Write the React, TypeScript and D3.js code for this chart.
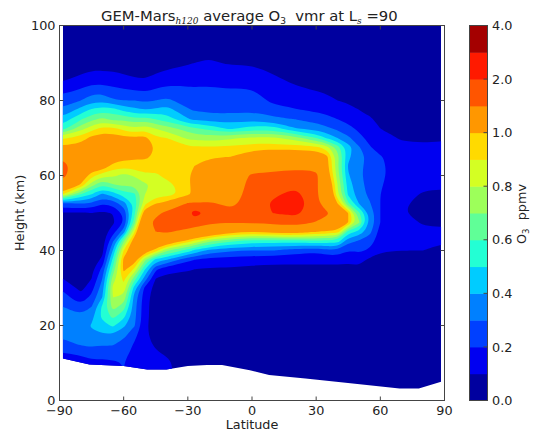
import React from "react";
import * as d3 from "d3";

// band edges and colours of the filled contours
const levels = [0, 0.1, 0.2, 0.3, 0.4, 0.5, 0.6, 0.7, 0.8, 0.9, 1.0, 1.5, 2.0, 3.0, 4.0];
const bandColors = [
  "#00009f", "#0000f1", "#0040ff", "#0080ff", "#00ccff", "#23ffd4", "#60ff97",
  "#9dff5a", "#d4ff23", "#ffda00", "#ff9700", "#ff5500", "#ff1a00", "#a40000",
];
const colorbarTicks = [
  { level: 0, label: "0.0" },
  { level: 2, label: "0.2" },
  { level: 4, label: "0.4" },
  { level: 6, label: "0.6" },
  { level: 8, label: "0.8" },
  { level: 10, label: "1.0" },
  { level: 12, label: "2.0" },
  { level: 14, label: "4.0" },
];
const latTicks = [-90, -60, -30, 0, 30, 60, 90];
const heightTicks = [0, 20, 40, 60, 80, 100];

const heights = [
  100, 90, 85, 80, 77.5, 75, 72.5, 70, 67.5, 65, 62.5, 60, 57.5, 55, 52.5, 50, 47.5,
  45, 42.5, 40, 37.5, 35, 32.5, 30, 27.5, 25, 22.5, 20, 17.5, 15, 12.5, 10, 5, 0,
];
const lats = [-88.4, -80, -75, -70, -65, -60, -55, -50, -45, -40, -30, -27, -20, -10, 0, 10, 20, 30, 35, 40, 45, 50, 55, 60, 70, 80, 88.4];

// O3 in ppmv, one column per latitude, top to bottom as in heights
const o3ByLat = [
  [.02, .05, .1, .25, .32, .44, .56, .88, 1.03, 1.42, 1.65, 1.6, 1.3, .9, .28, .09, .05, .04, .04, .04, .04, .07, .1, .19, .24, .3, .33, .34, .32, .27, .19, .15, .1, .1],
  [.02, .04, .14, .3, .44, .59, .76, .95, 1.05, 1.15, 1.2, 1.12, .98, .6, .3, .09, .06, .05, .04, .04, .04, .04, .05, .07, .13, .23, .31, .34, .34, .31, .22, .13, .08, .05],
  [.02, .05, .17, .36, .52, .67, .86, 1.03, 1.1, 1.2, 1.1, .94, .74, .5, .29, .1, .07, .05, .04, .04, .04, .07, .1, .16, .23, .3, .36, .41, .38, .32, .25, .17, .1, .05],
  [.03, .05, .17, .37, .55, .73, .93, 1.07, 1.15, 1.2, 1.1, .83, .6, .38, .2, .08, .05, .04, .05, .07, .12, .23, .3, .35, .4, .52, .53, .46, .39, .31, .24, .17, .1, .05],
  [.03, .05, .16, .31, .55, .67, .93, 1.05, 1.15, 1.1, .95, .82, .69, .45, .23, .105, .08, .16, .29, .41, .53, .63, .75, .83, .8, .74, .63, .52, .39, .31, .25, .18, .1, .05],
  [.03, .04, .14, .3, .47, .68, .87, 1.03, 1.2, 1.05, .93, .77, .72, .55, .36, .22, .2, .35, .68, .9, 1.03, 1.03, .93, .87, .77, .65, .53, .42, .33, .26, .22, .2, .2, .18],
  [.03, .04, .12, .3, .43, .63, .82, 1.02, 1.2, 1.02, .95, .81, .72, .58, .52, .57, .65, .88, 1.1, 1.17, 1.08, .88, .65, .45, .36, .34, .33, .31, .23, .19, .18, .17, .12, .1],
  [.03, .04, .11, .28, .4, .65, .87, 1.03, 1.15, 1.02, .96, .88, .78, .8, .88, 1.1, 1.35, 1.4, 1.3, 1.1, .72, .5, .35, .17, .14, .13, .13, .12, .12, .12, .12, .12, .1, .1],
  [.03, .05, .14, .3, .42, .6, .8, .92, .98, .98, .94, .88, .83, .85, 1.0, 1.4, 1.6, 1.5, 1.2, .95, .45, .22, .1, .06, .05, .05, .05, .05, .06, .09, .11, .12, .12, .12],
  [.03, .06, .17, .32, .45, .55, .75, .9, .92, .95, .96, .93, .86, .85, 1.05, 1.6, 1.7, 1.55, 1.15, .72, .4, .13, .07, .06, .05, .05, .05, .05, .05, .06, .09, .12, .12, .12],
  [.03, .09, .18, .26, .31, .41, .65, .78, .92, .95, .96, .98, .97, .95, 1.55, 1.8, 1.8, 1.35, .95, .55, .22, .11, .07, .05, .05, .05, .05, .05, .05, .05, .05, .05, .05, .05],
  [.03, .1, .18, .25, .29, .38, .62, .77, .92, .96, 1.0, 1.05, 1.05, 1.05, 1.55, 2.25, 1.75, 1.3, .88, .48, .2, .1, .07, .05, .05, .05, .05, .05, .05, .05, .05, .05, .05, .05],
  [.03, .11, .19, .23, .27, .36, .57, .75, .91, .98, 1.1, 1.2, 1.25, 1.3, 1.55, 1.85, 1.55, 1.2, .72, .37, .15, .09, .06, .05, .05, .05, .05, .05, .05, .05, .05, .05, .05, .05],
  [.03, .09, .18, .23, .27, .35, .48, .78, .92, 1.0, 1.2, 1.25, 1.3, 1.35, 1.42, 1.6, 1.52, 1.05, .62, .31, .15, .09, .06, .05, .05, .05, .05, .05, .05, .05, .05, .05, .05, .05],
  [.03, .09, .18, .24, .28, .37, .55, .82, .95, 1.1, 1.32, 1.55, 1.6, 1.62, 1.65, 1.68, 1.55, 1.0, .55, .3, .13, .08, .06, .05, .05, .05, .05, .05, .05, .05, .05, .05, .05, .05],
  [.03, .07, .12, .18, .23, .33, .55, .82, .95, 1.15, 1.35, 1.6, 1.7, 1.9, 2.1, 2.02, 1.6, 1.05, .55, .3, .13, .07, .06, .05, .05, .05, .05, .05, .05, .05, .05, .05, .05, .05],
  [.02, .05, .09, .15, .21, .3, .41, .75, .95, 1.15, 1.4, 1.65, 1.85, 2.2, 2.4, 2.15, 1.7, 1.1, .55, .25, .13, .07, .05, .05, .05, .05, .05, .05, .05, .05, .05, .05, .05, .05],
  [.02, .04, .07, .13, .18, .26, .36, .6, .93, 1.13, 1.42, 1.58, 1.55, 1.55, 1.6, 1.65, 1.48, 1.0, .58, .22, .13, .07, .05, .05, .05, .05, .05, .05, .05, .05, .05, .05, .05, .05],
  [.02, .03, .06, .12, .16, .24, .32, .49, .85, 1.03, 1.05, 1.1, 1.22, 1.25, 1.3, 1.55, 1.4, .97, .56, .26, .13, .07, .05, .05, .05, .05, .05, .05, .05, .05, .05, .05, .05, .05],
  [.02, .03, .05, .1, .14, .2, .28, .4, .65, .74, .72, .75, .8, .82, 1.0, 1.2, 1.25, .95, .55, .28, .13, .07, .05, .05, .05, .05, .05, .05, .05, .05, .05, .05, .05, .05],
  [.02, .03, .05, .09, .12, .17, .23, .32, .45, .42, .39, .41, .45, .48, .62, 1.0, 1.0, .55, .33, .2, .12, .07, .05, .05, .05, .05, .05, .05, .05, .05, .05, .05, .05, .05],
  [.02, .03, .04, .08, .1, .14, .18, .23, .31, .34, .32, .32, .33, .34, .4, .62, .72, .47, .29, .22, .13, .08, .06, .05, .05, .05, .05, .05, .05, .05, .05, .05, .05, .05],
  [.01, .02, .03, .05, .08, .11, .14, .17, .21, .27, .27, .26, .27, .28, .31, .37, .38, .33, .25, .18, .08, .06, .04, .04, .04, .04, .04, .04, .04, .04, .04, .04, .04, .04],
  [.01, .02, .03, .05, .07, .08, .1, .12, .15, .21, .22, .22, .21, .2, .2, .2, .2, .16, .14, .105, .08, .05, .04, .04, .04, .04, .04, .04, .04, .04, .04, .04, .04, .04],
  [.01, .02, .03, .04, .05, .06, .08, .095, .11, .125, .14, .14, .13, .12, .11, .105, .12, .12, .13, .1, .07, .05, .04, .04, .04, .04, .04, .04, .04, .04, .04, .04, .04, .04],
  [.01, .02, .03, .04, .05, .06, .07, .09, .11, .12, .125, .12, .11, .095, .08, .08, .095, .11, .12, .1, .07, .05, .04, .04, .04, .04, .04, .04, .04, .04, .04, .04, .04, .04],
  [.01, .02, .03, .04, .05, .06, .08, .095, .11, .13, .125, .12, .11, .09, .07, .07, .09, .11, .11, .08, .06, .05, .04, .04, .04, .04, .04, .04, .04, .04, .04, .04, .04, .04],
];

// lower edge of the filled area (km)
const surfaceLats = [-88.4, -76, -60, -49, -40, -30, -21, -14, -1, 8, 25, 46, 69, 78, 88.4];
const surfaceHeights = [11.2, 9.6, 9.2, 8.3, 8.3, 9.2, 9.5, 9.5, 8.1, 6.8, 5.9, 4.6, 3.2, 3.2, 5.0];

const font = "'DejaVu Sans', sans-serif";
const textColor = "#222";
const frameColor = "#444";

export default function App() {
  const x = d3.scaleLinear().domain([-90, 90]).range([59.5, 444.5]);
  const y = d3.scaleLinear().domain([0, 100]).range([400.5, 25.5]);
  const cbY = d3.scaleLinear().domain([0, 14]).range([400.5, 25.5]);

  // repeat the outer columns and rows past the frame so the ring smoothing
  // rounds its corners outside the clip
  const gridLats = [-93, ...lats, 93];
  const gridHeights = [103, ...heights, -3];
  const gridCols = [o3ByLat[0], ...o3ByLat, o3ByLat[o3ByLat.length - 1]].map((c) => [c[0], ...c, c[c.length - 1]]);

  const nx = gridLats.length;
  const ny = gridHeights.length;
  const flat: number[] = [];
  for (let j = 0; j < ny; j++) for (let i = 0; i < nx; i++) flat.push(gridCols[i][j]);

  // grid index -> pixel, grid is irregular
  const xOfIndex = d3.scaleLinear().domain(d3.range(nx)).range(gridLats.map((d) => x(d)));
  const yOfIndex = d3.scaleLinear().domain(d3.range(ny)).range(gridHeights.map((d) => y(d)));
  const toPixel = (p: number[]): [number, number] => [
    xOfIndex(Math.min(nx - 1, Math.max(0, p[0] - 0.5))),
    yOfIndex(Math.min(ny - 1, Math.max(0, p[1] - 0.5))),
  ];

  const bands = d3.contours().size([nx, ny]).smooth(true).thresholds(levels.slice(1, 14))(flat);
  const ringPath = d3.line().curve(d3.curveBasisClosed);
  const bandPath = (b: d3.ContourMultiPolygon) =>
    b.coordinates
      .flatMap((poly) => poly.map((ring) => ringPath(ring.slice(0, -1).map(toPixel))))
      .join("");

  const clipArea = d3
    .area<number>()
    .x((d) => x(d))
    .y0(y(100))
    .y1((d) => y(surfaceHeights[surfaceLats.indexOf(d)]));

  const tickLen = 4;
  const fontSize = 12.8;

  return (
    <svg
      width={535}
      height={436}
      style={{ position: "absolute", left: 0, top: 0, background: "#fff" }}
      fontFamily={font}
      fill={textColor}
    >
      <defs>
        <clipPath id="field">
          <path d={clipArea(surfaceLats) || ""} />
        </clipPath>
      </defs>

      <g clipPath="url(#field)">
        <rect x={x(-88.4)} y={y(100)} width={x(88.4) - x(-88.4)} height={y(0) - y(100)} fill={bandColors[0]} />
        {bands.map((b, i) => (
          <path key={i} d={bandPath(b)} fill={bandColors[i + 1]} fillRule="evenodd" />
        ))}
      </g>

      <rect x={59.5} y={25.5} width={385} height={375} fill="none" stroke={frameColor} />
      {latTicks.map((t) => (
        <g key={t}>
          <line x1={x(t)} x2={x(t)} y1={400.5} y2={400.5 - tickLen} stroke={frameColor} />
          <line x1={x(t)} x2={x(t)} y1={25.5} y2={25.5 + tickLen} stroke={frameColor} />
          <text x={x(t)} y={415} textAnchor="middle" fontSize={fontSize}>
            {String(t).replace("-", "\u2212")}
          </text>
        </g>
      ))}
      {heightTicks.map((t) => (
        <g key={t}>
          <line x1={59.5} x2={59.5 + tickLen} y1={y(t)} y2={y(t)} stroke={frameColor} />
          <line x1={444.5} x2={444.5 - tickLen} y1={y(t)} y2={y(t)} stroke={frameColor} />
          <text x={55.5} y={y(t) + 4.7} textAnchor="end" fontSize={fontSize}>
            {t}
          </text>
        </g>
      ))}
      <text x={252} y={428.5} textAnchor="middle" fontSize={fontSize}>Latitude</text>
      <text transform="translate(24,213) rotate(-90)" textAnchor="middle" fontSize={fontSize}>Height (km)</text>

      <text x={101} y={20.5} fontSize={14.8}>
        GEM-Mars
        <tspan dy={3} fontSize={9} fontFamily="'DejaVu Serif', serif" fontStyle="italic">h120</tspan>
        <tspan dy={-3}> average O</tspan>
        <tspan dy={3} fontSize={9}>3</tspan>
        <tspan dy={-3}>{"\u00a0 vmr at L"}</tspan>
        <tspan dy={3} fontSize={9} fontFamily="'DejaVu Serif', serif" fontStyle="italic">s</tspan>
        <tspan dy={-3}> =90</tspan>
      </text>

      {bandColors.map((c, i) => (
        <rect key={c} x={469.5} y={cbY(i + 1)} width={18} height={cbY(i) - cbY(i + 1) + 0.5} fill={c} />
      ))}
      <rect x={469.5} y={25.5} width={18} height={375} fill="none" stroke={frameColor} />
      {colorbarTicks.map((t) => (
        <g key={t.label}>
          <line x1={487.5} x2={487.5 - tickLen} y1={cbY(t.level)} y2={cbY(t.level)} stroke={frameColor} />
          <text x={492} y={cbY(t.level) + 4.7} fontSize={fontSize}>{t.label}</text>
        </g>
      ))}
      <text transform="translate(525.5,214) rotate(-90)" textAnchor="middle" fontSize={fontSize}>
        O<tspan dy={3} fontSize={8.5}>3</tspan>
        <tspan dy={-3}>{"\u00a0 ppmv"}</tspan>
      </text>
    </svg>
  );
}
